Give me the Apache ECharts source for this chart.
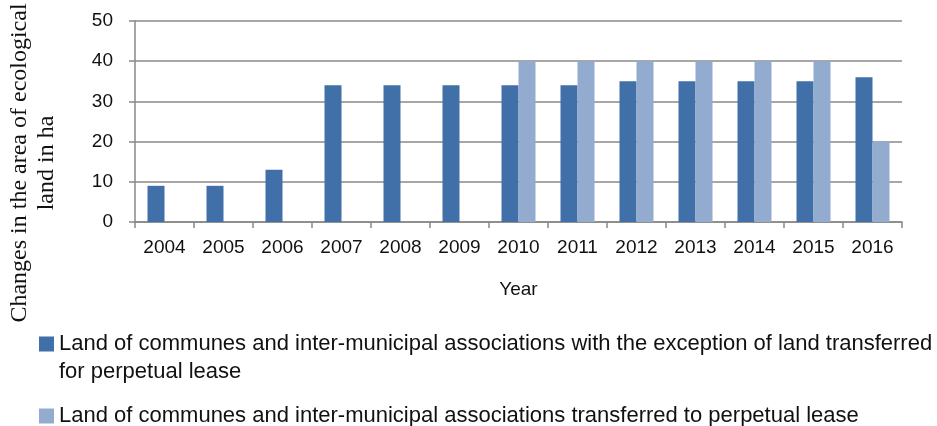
<!DOCTYPE html>
<html>
<head>
<meta charset="utf-8">
<script src="https://cdn.jsdelivr.net/npm/echarts@6/dist/echarts.min.js"></script>
<style>
  html, body { margin: 0; padding: 0; background: #fff; }
  #chart { width: 937px; height: 426px; }
</style>
</head>
<body>
<div id="chart"></div>
<script>
// 数据
const years = ['2004', '2005', '2006', '2007', '2008', '2009', '2010', '2011', '2012', '2013', '2014', '2015', '2016'];
const exceptLease = [9, 9, 13, 34, 34, 34, 34, 34, 35, 35, 35, 35, 36];
const perpetualLease = [null, null, null, null, null, null, 40, 40, 40, 40, 40, 40, 20];
const seriesNames = [
  'Land of communes and inter-municipal associations with the exception of land transferred for perpetual lease',
  'Land of communes and inter-municipal associations transferred to perpetual lease',
];

const chart = echarts.init(document.getElementById('chart'));
const sans = 'Liberation Sans, sans-serif';

// 图例方块放在第一行（两行文字时）
const iconTop = 'path://M0 0h15v15h-15z M0 42.99h0.01v0.01h-0.01z';
const iconMid = 'path://M0 0h15v15h-15z';

const option = {
  animation: false,
  grid: { left: 135, right: 35, top: 21, bottom: 204, outerBoundsMode: 'none', containLabel: false },
  legend: {
    orient: 'vertical',
    left: 34,
    top: 325,
    itemWidth: 15,
    itemHeight: 43,
    itemGap: 16,
    textStyle: { fontFamily: sans, fontSize: 22, color: '#111', lineHeight: 28 },
    data: [
      { name: seriesNames[0], icon: iconTop },
      { name: seriesNames[1], icon: iconMid },
    ],
    formatter: name => name === seriesNames[0]
      ? 'Land of communes and inter-municipal associations with the exception of land transferred\nfor perpetual lease'
      : name,
  },
  graphic: [
    {
      type: 'text',
      x: 33,
      y: 163,
      rotation: Math.PI / 2,
      style: {
        text: 'Changes in the area of ecological\nland in ha',
        font: '24px "Liberation Serif", serif',
        fill: '#111',
        align: 'center',
        verticalAlign: 'middle',
        lineHeight: 27,
      },
    },
  ],
  xAxis: {
    type: 'category',
    data: years,
    name: 'Year',
    nameLocation: 'middle',
    nameGap: 58,
    nameTextStyle: { fontFamily: sans, fontSize: 19, color: '#111' },
    axisLine: { lineStyle: { color: '#888', width: 1.5 } },
    axisTick: { show: true, length: 6, lineStyle: { color: '#888', width: 1.5 } },
    axisLabel: { interval: 0, fontFamily: sans, fontSize: 19, color: '#111', margin: 16 },
  },
  yAxis: {
    type: 'value',
    min: 0,
    max: 50,
    interval: 10,
    axisLine: { show: true, lineStyle: { color: '#888', width: 1.5 } },
    axisTick: { show: true, length: 6, lineStyle: { color: '#888', width: 1.5 } },
    axisLabel: { fontFamily: sans, fontSize: 19, color: '#111', margin: 22 },
    splitLine: { lineStyle: { color: '#8a8a8a', width: 1.5 } },
  },
  series: [
    {
      name: seriesNames[0],
      type: 'bar',
      data: exceptLease,
      barWidth: 17,
      barGap: '0%',
      itemStyle: { color: '#4170a8' },
    },
    {
      name: seriesNames[1],
      type: 'bar',
      data: perpetualLease,
      barWidth: 17,
      barGap: '0%',
      itemStyle: { color: '#94abd0' },
    },
  ],
};

chart.setOption(option);
</script>
</body>
</html>
